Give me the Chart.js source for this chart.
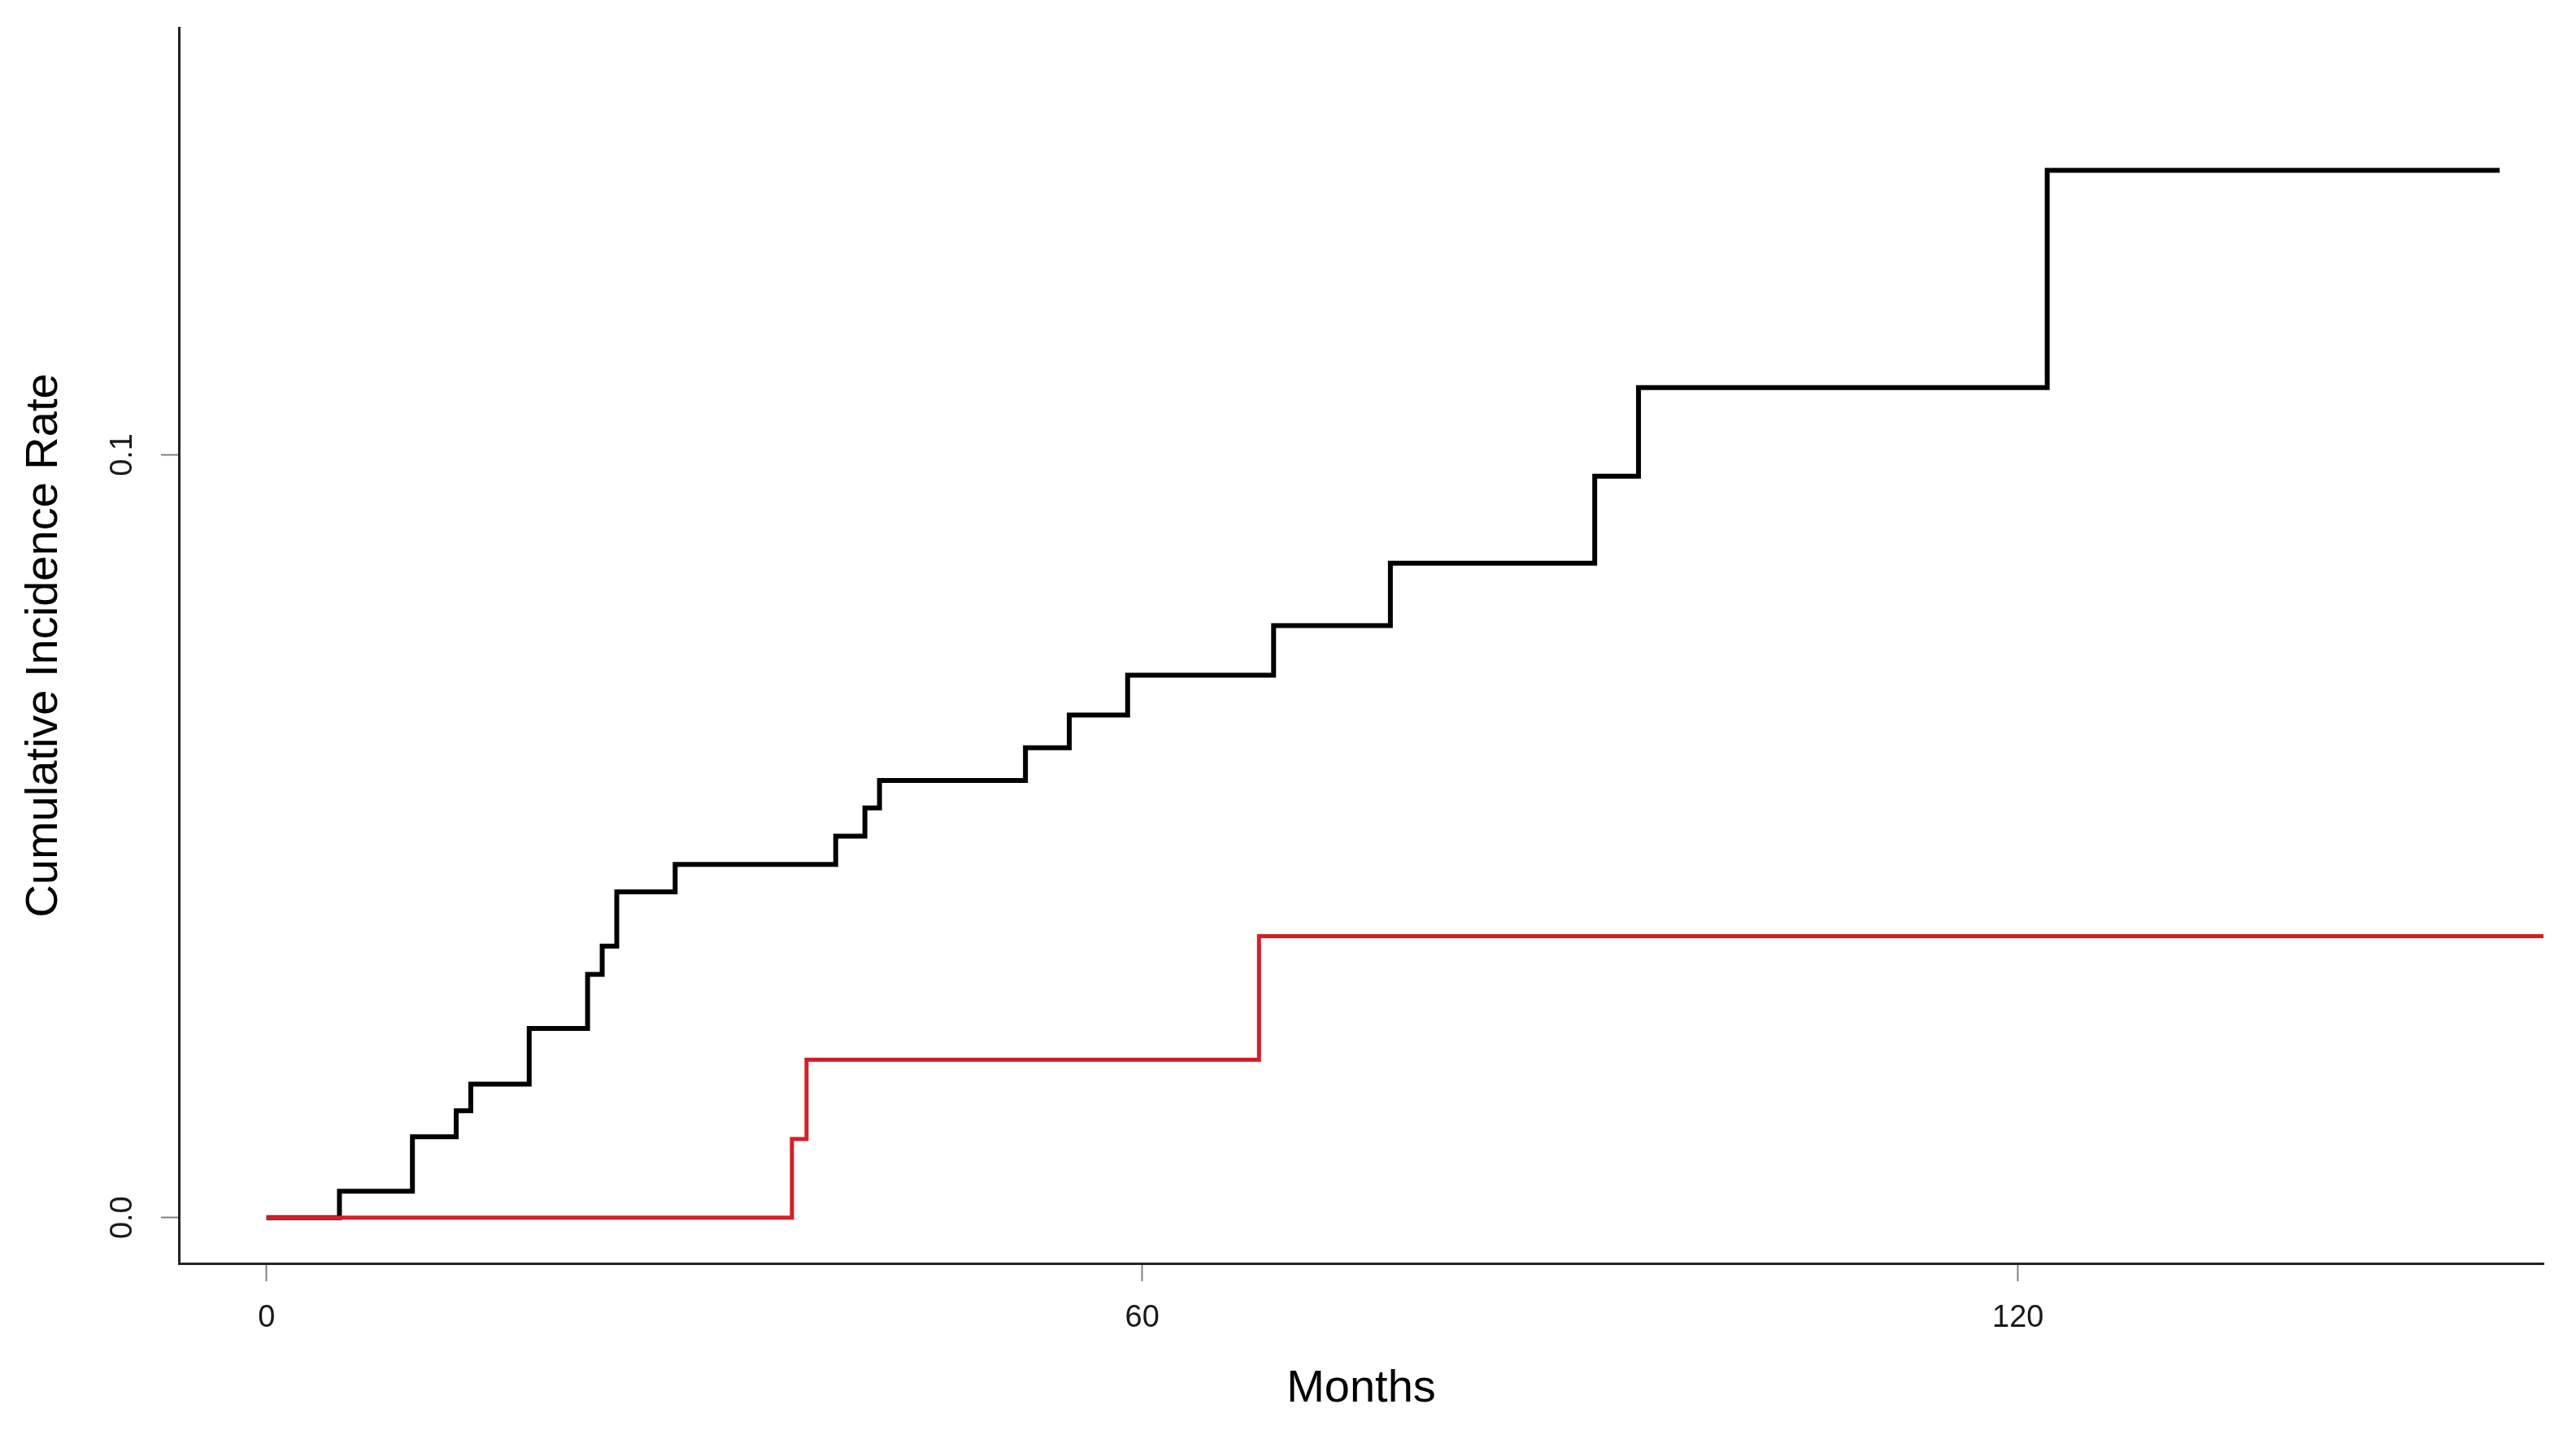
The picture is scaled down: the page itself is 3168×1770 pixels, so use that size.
<!DOCTYPE html>
<html>
<head>
<meta charset="utf-8">
<script src="https://cdn.jsdelivr.net/npm/chart.js@4"></script>
<style>
html,body{margin:0;padding:0;background:#fff;overflow:hidden;}
canvas{display:block;}
</style>
</head>
<body>
<canvas id="c" width="3168" height="1770"></canvas>
<script>
// ---- Data ----
const blackMonths = [0, 5, 10, 13, 14, 18, 22, 23, 24, 28, 39, 41, 42, 52, 55, 59, 69, 77, 91, 94, 122, 153];
const blackRates  = [0, 0.00345, 0.0106, 0.0140, 0.0175, 0.0248, 0.0319, 0.0356, 0.0427, 0.0463, 0.0500, 0.0537, 0.0573, 0.0616, 0.0659, 0.0711, 0.0776, 0.0858, 0.0972, 0.1088, 0.1373, 0.1373];
const redMonths   = [0, 36, 37, 68, 156];
const redRates    = [0, 0.0103, 0.0207, 0.0369, 0.0369];
const xTickValues = [0, 60, 120];
const xTickLabels = ['0', '60', '120'];
const yTickValues = [0, 0.1];
const yTickLabels = ['0.0', '0.1'];
const xTitle = 'Months';
const yTitle = 'Cumulative Incidence Rate';

const toPts = (xs, ys) => xs.map((v, i) => ({x: v, y: ys[i]}));

const labelsPlugin = {
  id: 'rlabels',
  afterDraw(chart) {
    const {ctx, chartArea} = chart;
    const x = chart.scales.x, y = chart.scales.y;
    ctx.save();
    ctx.fillStyle = '#1a1a1a';
    ctx.textAlign = 'center';
    ctx.textBaseline = 'middle';
    ctx.font = '38px "Liberation Sans", Arial, sans-serif';
    xTickValues.forEach((v, i) => {
      ctx.fillText(xTickLabels[i], x.getPixelForValue(v), chartArea.bottom + 68);
    });
    yTickValues.forEach((v, i) => {
      ctx.save();
      ctx.translate(chartArea.left - 68, y.getPixelForValue(v));
      ctx.rotate(-Math.PI / 2);
      ctx.fillText(yTickLabels[i], 0, 0);
      ctx.restore();
    });
    ctx.fillStyle = '#000';
    ctx.font = '56px "Liberation Sans", Arial, sans-serif';
    ctx.fillText(xTitle, (chartArea.left + chartArea.right) / 2, chartArea.bottom + 155);
    ctx.save();
    ctx.translate(chartArea.left - 165, (chartArea.top + chartArea.bottom) / 2);
    ctx.rotate(-Math.PI / 2);
    ctx.fillText(yTitle, 0, 0);
    ctx.restore();
    ctx.restore();
  }
};

new Chart(document.getElementById('c'), {
  type: 'line',
  data: {
    datasets: [
      {
        label: 'Group 1',
        data: toPts(blackMonths, blackRates),
        borderColor: '#000000',
        borderWidth: 6,
        stepped: true,
        pointRadius: 0,
        fill: false,
        order: 2
      },
      {
        label: 'Group 2',
        data: toPts(redMonths, redRates),
        borderColor: '#d41f2a',
        borderWidth: 5,
        stepped: true,
        pointRadius: 0,
        fill: false,
        order: 1
      }
    ]
  },
  options: {
    responsive: false,
    animation: false,
    devicePixelRatio: 1,
    layout: {padding: {left: 198, right: 40, top: 34, bottom: 194}},
    plugins: {legend: {display: false}, tooltip: {enabled: false}},
    scales: {
      x: {
        type: 'linear',
        min: -6,
        max: 156,
        afterBuildTicks: s => { s.ticks = xTickValues.map(v => ({value: v})); },
        ticks: {display: false},
        grid: {display: true, drawOnChartArea: false, drawTicks: true, tickLength: 22, tickColor: '#808080', tickWidth: 2},
        border: {display: true, color: '#222222', width: 3},
        title: {display: false}
      },
      y: {
        type: 'linear',
        min: -0.006,
        max: 0.156,
        afterBuildTicks: s => { s.ticks = yTickValues.map(v => ({value: v})); },
        ticks: {display: false},
        grid: {display: true, drawOnChartArea: false, drawTicks: true, tickLength: 22, tickColor: '#808080', tickWidth: 2},
        border: {display: true, color: '#222222', width: 3},
        title: {display: false}
      }
    }
  },
  plugins: [labelsPlugin]
});
</script>
</body>
</html>
